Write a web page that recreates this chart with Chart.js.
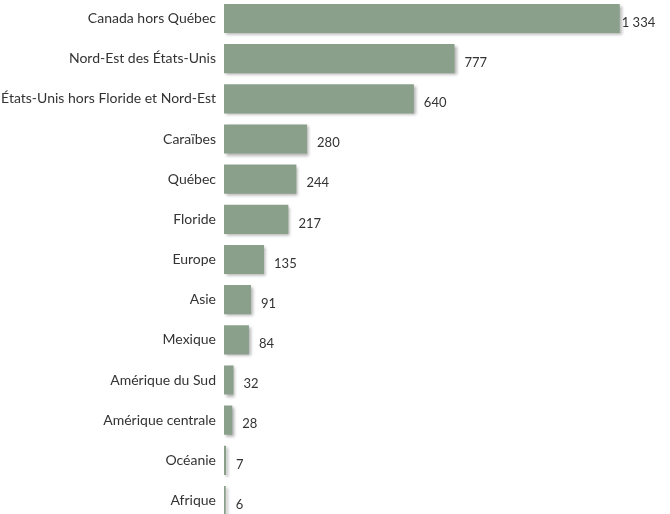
<!DOCTYPE html>
<html><head><meta charset="utf-8">
<script src="https://cdn.jsdelivr.net/npm/chart.js@4/dist/chart.umd.min.js"></script>
<style>
html,body{margin:0;padding:0;background:#fff;overflow:hidden;width:670px;height:514px;}
#c{position:absolute;left:0;top:-18px;}
</style></head>
<body><canvas id="c" width="670" height="555"></canvas>
<script>
const categories = ["Canada hors Québec","Nord-Est des États-Unis","États-Unis hors Floride et Nord-Est","Caraïbes","Québec","Floride","Europe","Asie","Mexique","Amérique du Sud","Amérique centrale","Océanie","Afrique"];
const values = [1334,777,640,280,244,217,135,91,84,32,28,7,6];

const FONT = "'Lato',sans-serif";
const fmt = v => String(v).replace(/\B(?=(\d{3})+(?!\d))/g, " ");

const shadowPlugin = {
  id:'shadow',
  beforeDatasetDraw(chart){ const c=chart.ctx; c.save(); c.shadowColor='rgba(0,0,0,0.3)'; c.shadowOffsetX=2; c.shadowOffsetY=2; c.shadowBlur=3; },
  afterDatasetDraw(chart){ chart.ctx.restore(); }
};
const labelPlugin = {
  id:'vlabels',
  afterDatasetsDraw(chart){
    const c=chart.ctx, meta=chart.getDatasetMeta(0);
    c.save(); c.font="13px "+FONT; c.fillStyle='#333'; c.textAlign='left'; c.textBaseline='middle';
    meta.data.forEach((el,i)=>{
      const off = values[i]===Math.max(...values) ? 2 : 10;
      c.fillText(fmt(values[i]), el.x+off, el.y+4);
    });
    c.restore();
  }
};

new Chart(document.getElementById('c'),{
  type:'bar',
  data:{labels:categories,datasets:[{data:values,backgroundColor:'#8BA08B',borderWidth:0,barPercentage:0.725,categoryPercentage:1}]},
  options:{
    indexAxis:'y',responsive:false,animation:false,
    layout:{padding:{left:0,right:1,top:0,bottom:0}},
    plugins:{legend:{display:false},tooltip:{enabled:false}},
    scales:{
      x:{min:0,max:1500,display:false},
      y:{grid:{display:false,drawTicks:false},border:{display:false},
         ticks:{padding:8,color:'#333',font:{family:FONT,size:14}},
         afterFit(s){s.width=224;}}
    }
  },
  plugins:[shadowPlugin,labelPlugin]
});
</script></body></html>
